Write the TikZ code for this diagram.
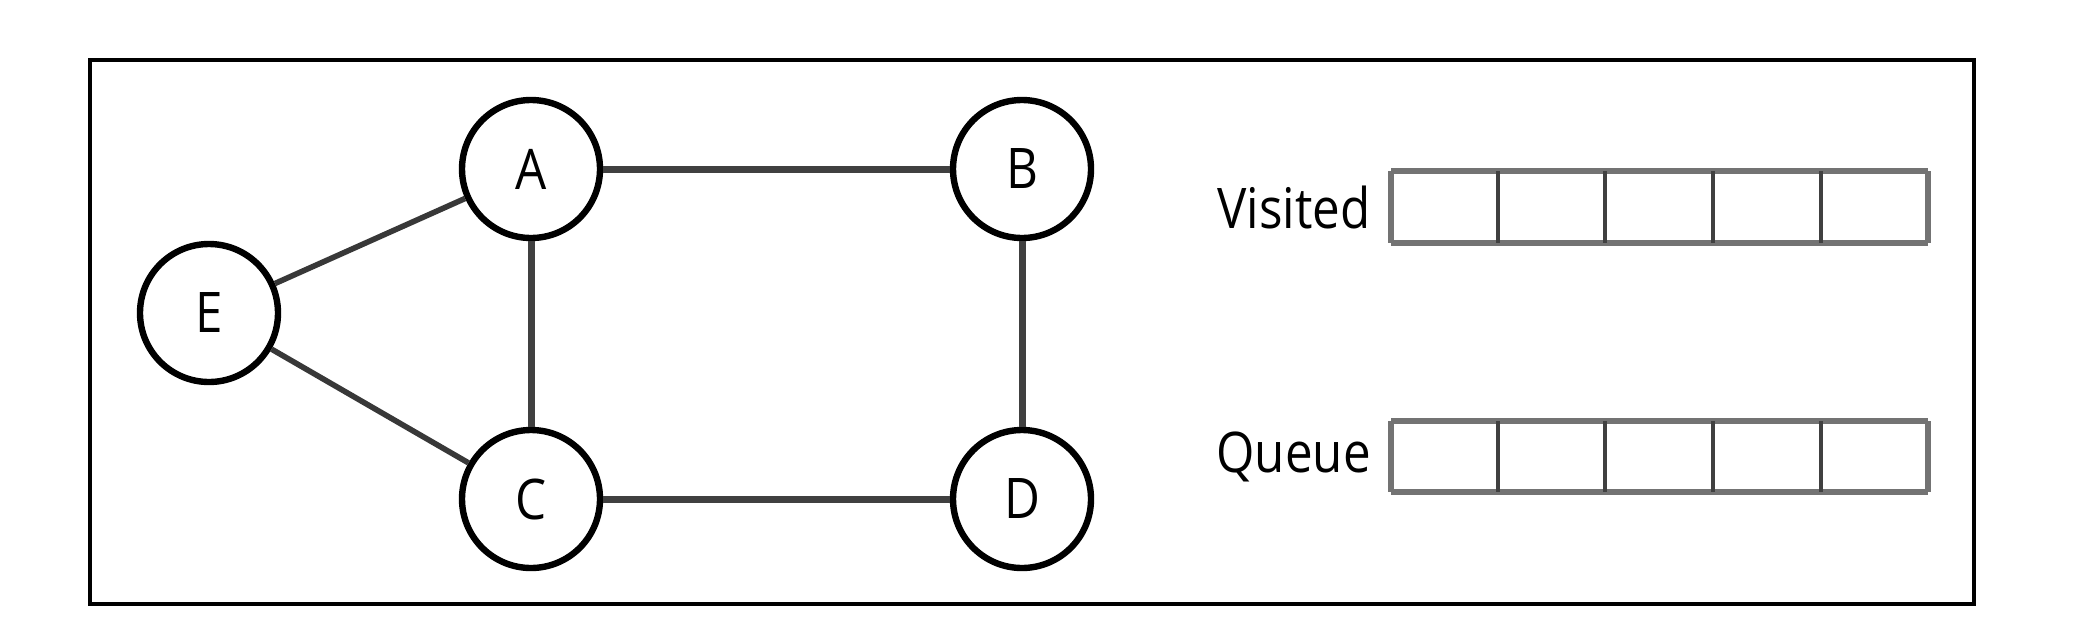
\documentclass[tikz,border=0pt]{standalone}
\usepackage{fontspec}
\setmainfont{Open Sans}[FakeStretch=0.88]
\begin{document}
\begin{tikzpicture}[x=0.5pt,y=-0.5pt,
  vertex/.style={circle,draw=black,line width=3.2pt,minimum size=69pt,inner sep=0pt,fill=white,font=\fontsize{28}{30}\selectfont},
  edge/.style={draw=black!75,line width=3.5pt},
  thinedge/.style={draw=black!78,line width=2.8pt},
  lbl/.style={font=\fontsize{28}{30}\selectfont,anchor=east,inner sep=0pt},
  cellrow/.style={draw=black!55,line width=2.6pt},
  divider/.style={draw=black!75,line width=2pt}]
\useasboundingbox (0,0) rectangle (2075,643);
\draw[line width=1.6pt,black] (90,60) rectangle (1974,604);
\node[vertex] (A) at (531,169) {A};
\node[vertex] (B) at (1022,169) {B};
\node[vertex] (E) at (209,313) {E};
\node[vertex] (C) at (531,499) {C};
\node[vertex] (D) at (1022,499) {D};
\path[edge] (A) -- (B);
\path[edge] (C) -- (D);
\path[edge] (A) -- (C);
\path[edge] (B) -- (D);
\path[thinedge] (E) -- (A);
\path[thinedge] (E) -- (C);
% Visited
\draw[cellrow,line width=3.4pt] (1391,171) -- (1928,171);
\draw[cellrow,line width=3.4pt] (1391,243) -- (1928,243);
\draw[cellrow] (1391,171) -- (1391,243);
\draw[cellrow] (1928,171) -- (1928,243);
\foreach \x in {1498,1605,1713,1821} \draw[divider] (\x,171) -- (\x,243);
\coordinate (vbox) at (1391,207);
\node[lbl] (vis) at ([xshift=-10pt]vbox) {Visited};
% Queue
\draw[cellrow,line width=3.4pt] (1391,421) -- (1928,421);
\draw[cellrow,line width=3.4pt] (1391,492) -- (1928,492);
\draw[cellrow] (1391,421) -- (1391,492);
\draw[cellrow] (1928,421) -- (1928,492);
\foreach \x in {1498,1605,1713,1821} \draw[divider] (\x,421) -- (\x,492);
\coordinate (qbox) at (1391,457);
\node[lbl] (que) at ([xshift=-10pt]qbox) {Queue};
\end{tikzpicture}
\end{document}
